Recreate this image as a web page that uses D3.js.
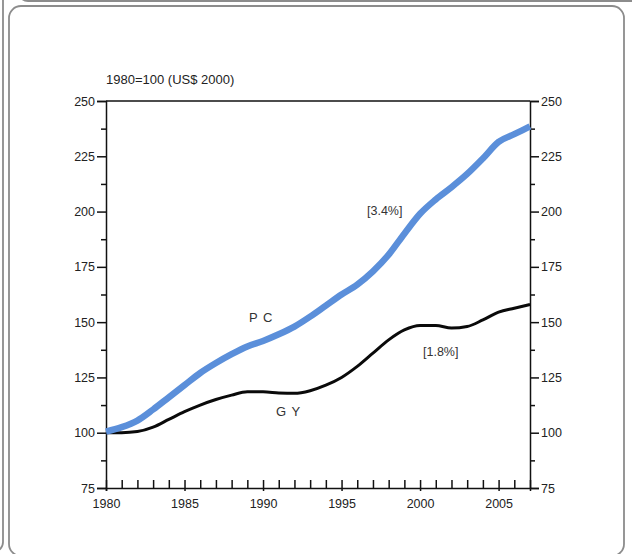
<!DOCTYPE html>
<html>
<head>
<meta charset="utf-8">
<script src="https://cdn.jsdelivr.net/npm/d3@7"></script>
<style>
  html, body { margin: 0; padding: 0; background: #fff; }
  svg { display: block; }
  .ax text { font-family: "Liberation Sans", Arial, sans-serif; font-size: 12.5px; fill: #222; }
  .ax path, .ax line { stroke: #111; stroke-width: 1.5px; }
  .lbl { font-family: "Liberation Sans", Arial, sans-serif; font-size: 13px; fill: #333; letter-spacing: 1px; }
  .rate { font-family: "Liberation Sans", Arial, sans-serif; font-size: 12.5px; fill: #333; }
</style>
</head>
<body>
<svg id="chart" width="632" height="554"></svg>
<script>
// Index values, 1980 = 100 (constant US$ 2000)
const years = d3.range(1980, 2008);
const pcValues = [100.5, 102.5, 105.5, 110.5, 116, 121.5, 127, 131.5, 135.5, 139,
                  141.5, 144.5, 148, 152.5, 157.5, 162.5, 167, 173, 180.5, 190,
                  199, 205.5, 211, 217, 224, 231.5, 235, 238.5];
const gyValues = [100, 100, 100.5, 102.5, 106, 109.5, 112.5, 115, 117, 118.5,
                  118.5, 118, 117.8, 119, 121.5, 125, 130, 136, 142, 146.5,
                  148.5, 148.5, 147.3, 148, 151, 154.5, 156.3, 158];
const yTicks = [75, 100, 125, 150, 175, 200, 225, 250];
const yMinorTicks = [87.5, 112.5, 137.5, 162.5, 187.5, 212.5, 237.5];
const xTicks = [1980, 1985, 1990, 1995, 2000, 2005];
const unitLabel = "1980=100 (US$ 2000)";
const seriesLabels = { pc: "PC", gy: "GY" };
const rateLabels = { pc: "[3.4%]", gy: "[1.8%]" };

const svg = d3.select("#chart");

// panel frames
const frame = svg.append("g").attr("fill", "none").attr("stroke", "#8c8c8c").attr("stroke-width", 1.8);
frame.append("rect").attr("x", -400).attr("y", -30).attr("width", 403).attr("height", 582).attr("rx", 10);
frame.append("rect").attr("x", 18).attr("y", -300).attr("width", 700).attr("height", 301).attr("rx", 10);
frame.append("rect").attr("x", 9).attr("y", 6).attr("width", 615).attr("height", 550).attr("rx", 12);

const x0 = 106, x1 = 530, yTop = 101, yBot = 488;
const x = d3.scaleLinear().domain([1980, 2007]).range([x0, x1]);
const y = d3.scaleLinear().domain([75, 250]).range([yBot, yTop]);

// top frame line
svg.append("line").attr("x1", x0).attr("x2", x1).attr("y1", yTop).attr("y2", yTop)
  .attr("stroke", "#111").attr("stroke-width", 1.5);

// left axis
svg.append("g").attr("class", "ax").attr("transform", `translate(${x0},0)`)
  .call(d3.axisLeft(y).tickValues(yTicks).tickSize(9).tickPadding(2));
svg.append("g").attr("class", "ax").attr("transform", `translate(${x0},0)`)
  .call(d3.axisLeft(y).tickValues(yMinorTicks).tickSize(5).tickFormat(""))
  .call(g => g.select(".domain").remove());

// right axis
svg.append("g").attr("class", "ax").attr("transform", `translate(${x1},0)`)
  .call(d3.axisRight(y).tickValues(yTicks).tickSize(9).tickPadding(2));
svg.append("g").attr("class", "ax").attr("transform", `translate(${x1},0)`)
  .call(d3.axisRight(y).tickValues(yMinorTicks).tickSize(5).tickFormat(""))
  .call(g => g.select(".domain").remove());

// bottom axis: year ticks point up, labelled ticks also cross below
svg.append("g").attr("class", "ax").attr("transform", `translate(0,${yBot})`)
  .call(d3.axisBottom(x).tickValues(years.filter(v => !xTicks.includes(v))).tickSize(-8).tickFormat(""))
  .call(g => g.select(".domain").remove());
svg.append("g").attr("class", "ax").attr("transform", `translate(0,${yBot})`)
  .call(d3.axisBottom(x).tickValues(xTicks).tickSize(3).tickPadding(8).tickFormat(d3.format("d")))
  .call(g => g.selectAll(".tick line").attr("y1", -8).attr("y2", 3));

// unit label
svg.append("text").attr("x", x0).attr("y", 84)
  .attr("font-family", '"Liberation Sans", Arial, sans-serif')
  .attr("font-size", 13).attr("fill", "#222").text(unitLabel);

const line = d3.line().x((d, i) => x(years[i])).y(d => y(d)).curve(d3.curveMonotoneX);

svg.append("path").datum(gyValues).attr("d", line)
  .attr("fill", "none").attr("stroke", "#0a0a0a").attr("stroke-width", 3)
  .attr("stroke-linejoin", "round");
svg.append("path").datum(pcValues).attr("d", line)
  .attr("fill", "none").attr("stroke", "#5b8fda").attr("stroke-width", 6.5)
  .attr("stroke-linejoin", "round");

// series names and growth rates
svg.append("text").attr("class", "lbl").attr("x", 249).attr("y", 322).text(seriesLabels.pc.split("").join(" "));
svg.append("text").attr("class", "lbl").attr("x", 276).attr("y", 416).text(seriesLabels.gy.split("").join(" "));
svg.append("text").attr("class", "rate").attr("x", 367).attr("y", 215).text(rateLabels.pc);
svg.append("text").attr("class", "rate").attr("x", 423).attr("y", 356).text(rateLabels.gy);
</script>
</body>
</html>
